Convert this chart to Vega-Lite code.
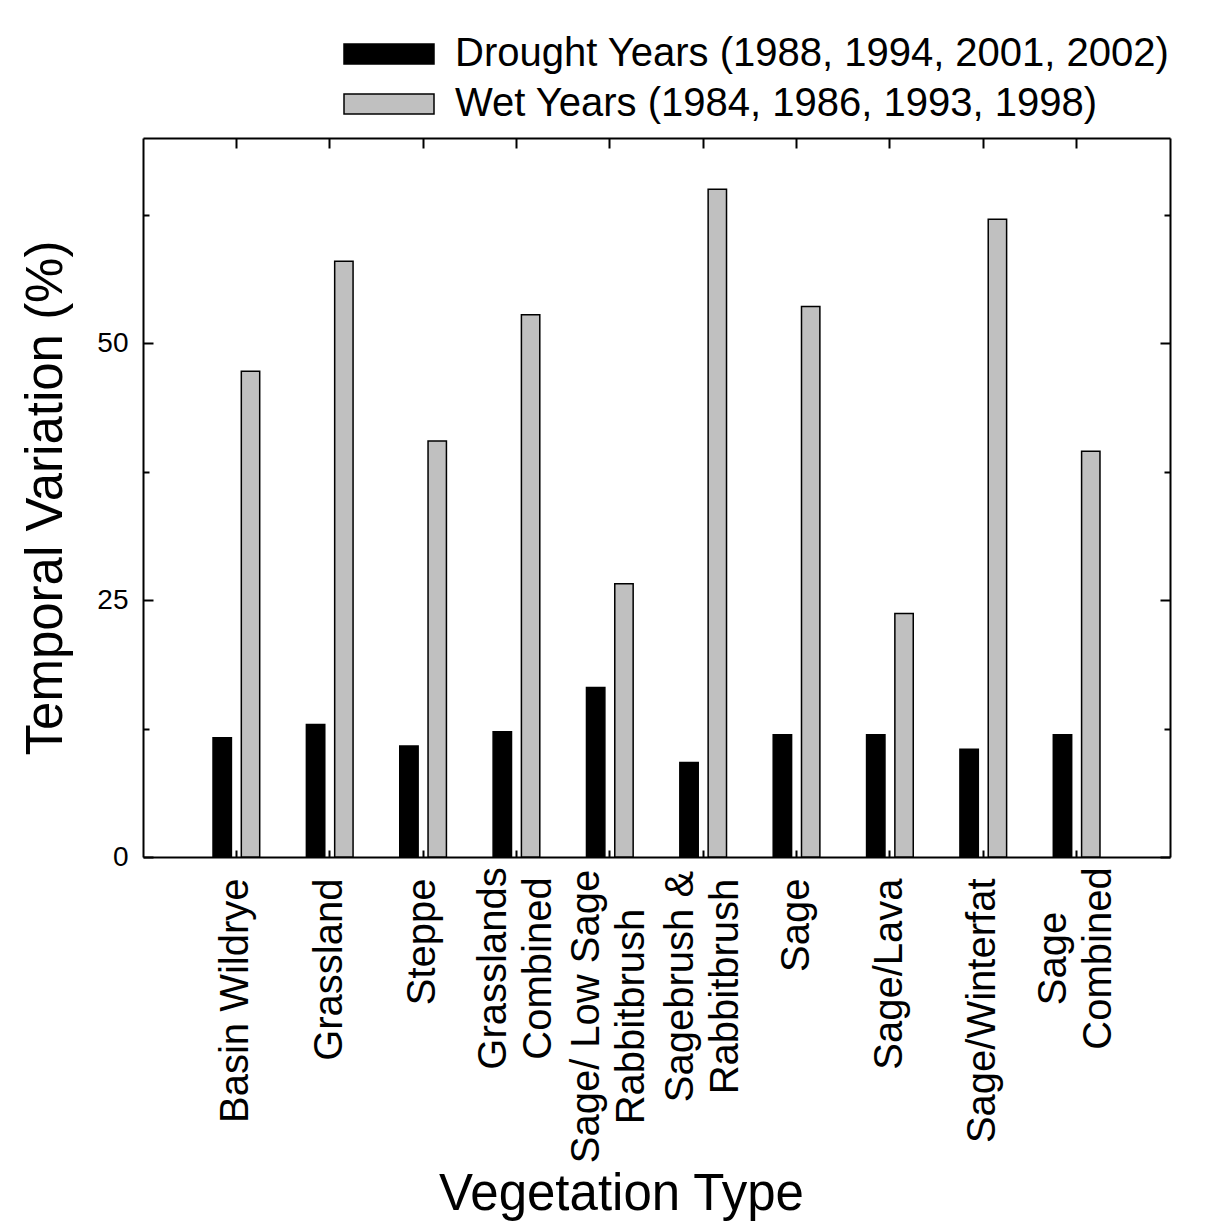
{
  "$schema": "https://vega.github.io/schema/vega-lite/v6.json",
  "autosize": "none",
  "width": 1027,
  "height": 719,
  "padding": {"left": 143, "top": 138, "right": 40, "bottom": 364},
  "background": "white",
  "config": {
    "font": "Liberation Sans",
    "view": {"stroke": null},
    "axis": {"domainColor": "black", "domainWidth": 2, "tickColor": "black", "tickWidth": 2, "labelColor": "black", "titleColor": "black", "grid": false, "labelFont": "Liberation Sans", "titleFont": "Liberation Sans", "titleFontWeight": "normal", "labelLimit": 0, "titleLimit": 0},
    "legend": {"labelFont": "Liberation Sans", "labelLimit": 0}
  },
  "data": {
    "values": [
      {"veg": "Basin Wildrye", "series": "Drought Years (1988, 1994, 2001, 2002)", "value": 11.6},
      {"veg": "Grassland", "series": "Drought Years (1988, 1994, 2001, 2002)", "value": 12.9},
      {"veg": "Steppe", "series": "Drought Years (1988, 1994, 2001, 2002)", "value": 10.8},
      {"veg": "Grasslands|Combined", "series": "Drought Years (1988, 1994, 2001, 2002)", "value": 12.2},
      {"veg": "Sage/ Low Sage|Rabbitbrush", "series": "Drought Years (1988, 1994, 2001, 2002)", "value": 16.5},
      {"veg": "Sagebrush &|Rabbitbrush", "series": "Drought Years (1988, 1994, 2001, 2002)", "value": 9.2},
      {"veg": "Sage", "series": "Drought Years (1988, 1994, 2001, 2002)", "value": 11.9},
      {"veg": "Sage/Lava", "series": "Drought Years (1988, 1994, 2001, 2002)", "value": 11.9},
      {"veg": "Sage/Winterfat", "series": "Drought Years (1988, 1994, 2001, 2002)", "value": 10.5},
      {"veg": "Sage|Combined", "series": "Drought Years (1988, 1994, 2001, 2002)", "value": 11.9},
      {"veg": "Basin Wildrye", "series": "Wet Years (1984, 1986, 1993, 1998)", "value": 47.3},
      {"veg": "Grassland", "series": "Wet Years (1984, 1986, 1993, 1998)", "value": 58.0},
      {"veg": "Steppe", "series": "Wet Years (1984, 1986, 1993, 1998)", "value": 40.5},
      {"veg": "Grasslands|Combined", "series": "Wet Years (1984, 1986, 1993, 1998)", "value": 52.8},
      {"veg": "Sage/ Low Sage|Rabbitbrush", "series": "Wet Years (1984, 1986, 1993, 1998)", "value": 26.6},
      {"veg": "Sagebrush &|Rabbitbrush", "series": "Wet Years (1984, 1986, 1993, 1998)", "value": 65.0},
      {"veg": "Sage", "series": "Wet Years (1984, 1986, 1993, 1998)", "value": 53.6},
      {"veg": "Sage/Lava", "series": "Wet Years (1984, 1986, 1993, 1998)", "value": 23.7},
      {"veg": "Sage/Winterfat", "series": "Wet Years (1984, 1986, 1993, 1998)", "value": 62.1},
      {"veg": "Sage|Combined", "series": "Wet Years (1984, 1986, 1993, 1998)", "value": 39.5}
    ]
  },
  "resolve": {"axis": {"x": "independent", "y": "independent"}},
  "layer": [
    {
      "mark": {"type": "bar", "stroke": "black", "strokeWidth": 1.5},
      "encoding": {
        "x": {
          "field": "veg", "type": "nominal", "sort": null,
          "scale": {"paddingInner": 0.5, "paddingOuter": 0.75},
          "axis": {
            "orient": "bottom", "tickSize": -7, "labelAngle": 270,
            "labelAlign": {"condition": {"test": "indexof(datum.value, '|') >= 0", "value": "center"}, "value": "right"},
            "labelBaseline": "middle",
            "labelOffset": {"condition": {"test": "indexof(datum.value, '|') >= 0", "value": -22.5}, "value": 0},
            "labelPadding": {"condition": [
              {"test": "datum.value == 'Grasslands|Combined'", "value": 118},
              {"test": "datum.value == 'Sage/ Low Sage|Rabbitbrush'", "value": 166},
              {"test": "datum.value == 'Sagebrush &|Rabbitbrush'", "value": 136},
              {"test": "datum.value == 'Sage|Combined'", "value": 108}
            ], "value": 28},
            "labelFontSize": 40, "labelLineHeight": 45,
            "labelExpr": "split(datum.value, '|')",
            "title": "Vegetation Type", "titleFontSize": 51, "titleX": 478, "titleY": 352, "titleBaseline": "alphabetic", "titleAlign": "center"
          }
        },
        "xOffset": {
          "field": "series", "type": "nominal",
          "scale": {"domain": ["Drought Years (1988, 1994, 2001, 2002)", "Wet Years (1984, 1986, 1993, 1998)"], "paddingInner": 0.35, "paddingOuter": 0}
        },
        "y": {
          "field": "value", "type": "quantitative", "stack": null,
          "scale": {"domain": [0, 70], "nice": false},
          "axis": {"orient": "left", "values": [0, 25, 50], "tickSize": -10, "labelPadding": 25, "labelFontSize": 28, "title": "Temporal Variation (%)", "titleFontSize": 51, "titlePadding": 24}
        },
        "color": {
          "field": "series", "type": "nominal",
          "scale": {"domain": ["Drought Years (1988, 1994, 2001, 2002)", "Wet Years (1984, 1986, 1993, 1998)"], "range": ["#000000", "#c0c0c0"]},
          "legend": {
            "orient": "none", "legendX": 226, "legendY": -104, "title": null, "direction": "vertical",
            "symbolType": "M-4.5,-1H4.5V1H-4.5Z", "symbolSize": 400, "symbolStrokeColor": "black", "symbolStrokeWidth": 1.5, "symbolOpacity": 1,
            "labelFontSize": 40, "labelOffset": 46, "rowPadding": 10, "labelColor": "black", "padding": 0, "labelLimit": 0
          }
        }
      }
    },
    {
      "mark": {"type": "bar", "opacity": 0},
      "encoding": {
        "x": {"field": "veg", "type": "nominal", "sort": null, "scale": {"paddingInner": 0.5, "paddingOuter": 0.75},
          "axis": {"orient": "top", "tickSize": -10, "labels": false, "title": null}},
        "y": {"field": "value", "type": "quantitative", "stack": null, "scale": {"domain": [0, 70], "nice": false},
          "axis": {"orient": "left", "values": [12.5, 37.5, 62.5], "tickSize": -6, "labels": false, "domain": false, "title": null}}
      }
    },
    {
      "mark": {"type": "bar", "opacity": 0},
      "encoding": {
        "x": {"field": "veg", "type": "nominal", "sort": null, "scale": {"paddingInner": 0.5, "paddingOuter": 0.75}, "axis": null},
        "y": {"field": "value", "type": "quantitative", "stack": null, "scale": {"domain": [0, 70], "nice": false},
          "axis": {"orient": "right", "values": [0, 25, 50], "tickSize": -10, "labels": false, "title": null}}
      }
    },
    {
      "mark": {"type": "bar", "opacity": 0},
      "encoding": {
        "x": {"field": "veg", "type": "nominal", "sort": null, "scale": {"paddingInner": 0.5, "paddingOuter": 0.75}, "axis": null},
        "y": {"field": "value", "type": "quantitative", "stack": null, "scale": {"domain": [0, 70], "nice": false},
          "axis": {"orient": "right", "values": [12.5, 37.5, 62.5], "tickSize": -6, "labels": false, "domain": false, "title": null}}
      }
    }
  ]
}
